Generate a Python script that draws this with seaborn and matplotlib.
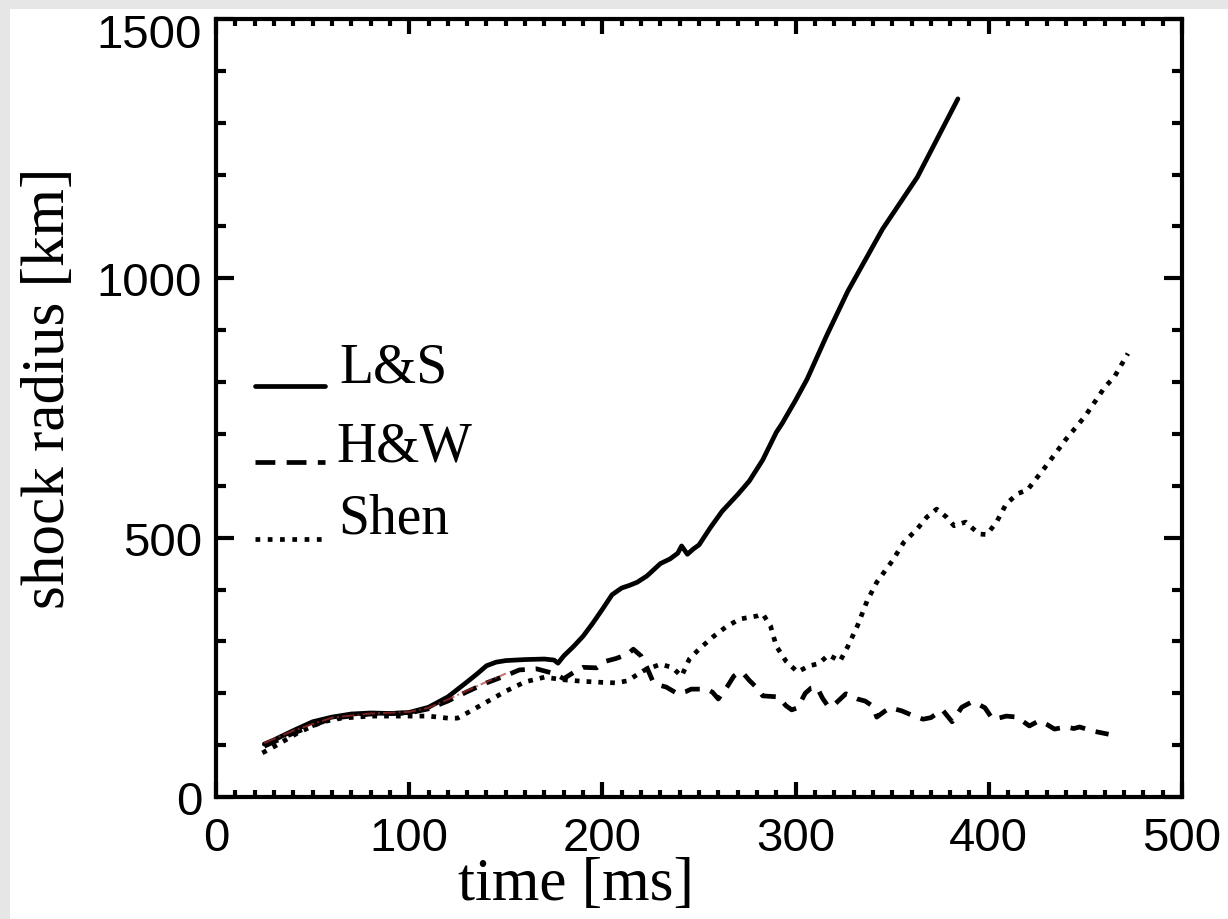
import matplotlib
matplotlib.use("Agg")
import matplotlib.pyplot as plt
from matplotlib.patches import Rectangle
from matplotlib.ticker import MultipleLocator
from matplotlib.transforms import ScaledTranslation
import seaborn as sns

# Shock radius evolution for three equations of state
ls_time = [25, 30, 40, 50, 60, 70, 80, 90, 100, 110, 120, 130, 135, 140, 145, 150, 160,
           170, 175, 177, 180, 185, 190, 195, 200, 205, 210, 214, 218, 223, 230, 235, 239,
           241, 244, 247, 250, 256, 262, 270, 276, 283, 290, 293, 300, 306, 316, 327, 345,
           363, 384]
ls_radius = [102, 110, 128, 145, 154, 160, 162, 161, 163, 173, 193, 222, 237, 253, 260, 263,
             265, 266, 264, 258, 272, 290, 310, 335, 362, 390, 403, 408, 414, 426, 450, 459,
             470, 484, 468, 478, 486, 520, 551, 583, 609, 650, 703, 720, 765, 806, 889, 975,
             1095, 1195, 1346]

hw_time = [25, 40, 60, 80, 100, 110, 120, 130, 140, 150, 157, 166, 170, 175, 180, 185, 190,
           197, 202, 207, 213, 216, 220, 223, 226, 230, 233, 239, 243, 246, 254, 257, 260,
           262, 265, 268, 271, 273, 276, 279, 283, 287, 291, 295, 298, 301, 305, 308, 311,
           314, 317, 320, 326, 332, 336, 340, 342, 346, 349, 355, 360, 363, 366, 370, 376,
           381, 386, 391, 395, 398, 402, 406, 409, 415, 418, 421, 426, 430, 434, 440, 444,
           447, 454, 458, 462]
hw_radius = [98, 123, 152, 160, 162, 170, 185, 203, 220, 234, 245, 247, 243, 238, 228, 240,
             250, 249, 262, 267, 275, 285, 272, 250, 224, 215, 212, 199, 203, 208, 208, 202,
             189, 200, 215, 233, 241, 238, 225, 214, 195, 194, 193, 176, 168, 172, 200, 210,
             212, 190, 174, 178, 199, 189, 185, 175, 154, 165, 172, 166, 158, 154, 150, 153,
             168, 145, 173, 183, 178, 172, 150, 153, 156, 154, 145, 137, 147, 140, 131, 135,
             132, 135, 127, 124, 121]

shen_time = [24, 30, 43, 55, 65, 80, 100, 110, 120, 125, 130, 140, 150, 160, 170, 180, 190,
             200, 207, 213, 221, 230, 236, 241, 245, 250, 257, 264, 271, 280, 283, 287, 290,
             295, 301, 307, 312, 317, 323, 327, 332, 337, 342, 350, 356, 363, 368, 373, 378,
             382, 388, 395, 399, 404, 409, 415, 420, 430, 440, 450, 460, 465, 472]
shen_radius = [85, 97, 125, 145, 152, 156, 156, 156, 152, 152, 162, 183, 204, 222, 231, 226,
               223, 221, 220, 224, 243, 256, 250, 233, 266, 285, 308, 328, 343, 349, 353, 330,
               291, 262, 241, 253, 257, 274, 262, 290, 330, 378, 414, 455, 491, 517, 540, 555,
               540, 523, 530, 507, 506, 530, 565, 585, 592, 640, 690, 735, 790, 810, 855]

ref_time = [25, 40, 60, 80, 100, 110, 120, 130, 140, 150]
ref_radius = [104, 128, 153, 161, 164, 172, 188, 205, 222, 238]

labels = ["L&S", "H&W", "Shen"]
x_ticks = [0, 100, 200, 300, 400, 500]
y_ticks = [0, 500, 1000, 1500]
dash_style = (0, (3.2, 2.3))
dot_style = (0, (1, 1.5))

sns.set_style("ticks")
plt.rcParams['font.family'] = ['Liberation Serif', 'DejaVu Serif']

W, H = 1228, 920
fig = plt.figure(figsize=(W / 100, H / 100), dpi=100, facecolor='#e6e6e6')
fig.patches.append(Rectangle((10 / W, 0), 1, 1 - 10 / H, transform=fig.transFigure,
                             facecolor='white', edgecolor='none', zorder=-5))
ax = fig.add_axes([216 / W, 1 - 798 / H, 966 / W, 778 / H])
ax.set_facecolor('white')

LW = 3.4
sns.lineplot(x=ls_time, y=ls_radius, ax=ax, color='black', lw=LW,
             estimator=None, sort=False)
sns.lineplot(x=hw_time, y=hw_radius, ax=ax, color='black', lw=LW, linestyle=dash_style,
             estimator=None, sort=False)
sns.lineplot(x=shen_time, y=shen_radius, ax=ax, color='black', lw=LW, linestyle=dot_style,
             estimator=None, sort=False)
sns.lineplot(x=ref_time, y=ref_radius, ax=ax, color='#b03030', lw=1.4, linestyle='-.',
             alpha=0.7, estimator=None, sort=False)

ax.set_xlim(0, 500)
ax.set_ylim(0, 1500)
ax.set_xticks(x_ticks)
ax.set_yticks(y_ticks)
ax.xaxis.set_minor_locator(MultipleLocator(10))
ax.yaxis.set_minor_locator(MultipleLocator(100))

ax.tick_params(which='both', direction='in', top=True, right=True, width=3, color='black',
               labelcolor='black', labelfontfamily='Liberation Sans')
ax.tick_params(axis='x', which='major', length=11, pad=14, labelsize=34)
ax.tick_params(axis='x', which='minor', length=5)
ax.tick_params(axis='y', which='major', length=13, pad=10, labelsize=34)
ax.tick_params(axis='y', which='minor', length=7)
for sp in ax.spines.values():
    sp.set_linewidth(3)
    sp.set_color('black')

# the top value label sits a little below its tick, clear of the frame edge
top_tick = ax.yaxis.get_major_ticks()[len(y_ticks) - 1]
top_tick.label1.set_transform(top_tick.label1.get_transform()
                              + ScaledTranslation(0, -0.11, fig.dpi_scale_trans))

ax.set_xlabel('time [ms]', fontsize=44, color='black')
ax.xaxis.set_label_coords(0.373, -0.076)
ax.set_ylabel('shock radius [km]', fontsize=44, color='black')
ax.yaxis.set_label_coords(-0.144, 0.527)

# Hand-placed key in the upper left of the panel
key_styles = ['-', (0, (4.2, 2.4)), (0, (1, 1.6))]
key_y = [0.528, 0.4306, 0.3316]
text_y = [0.5347, 0.4319, 0.3406]
text_x = [0.128, 0.125, 0.127]
for lab, st, ky, ty, tx in zip(labels, key_styles, key_y, text_y, text_x):
    ax.plot([0.0404, 0.1128], [ky, ky], transform=ax.transAxes, color='black', lw=LW,
            linestyle=st)
    ax.text(tx, ty, lab, transform=ax.transAxes, fontsize=40, ha='left',
            va='baseline', color='black')

fig.savefig('out.png', dpi=100, facecolor=fig.get_facecolor())
